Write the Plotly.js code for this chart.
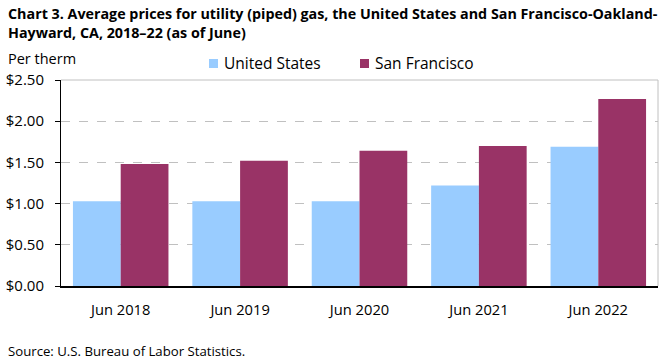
<!DOCTYPE html>
<html><head><meta charset="utf-8">
<script src="https://cdn.plot.ly/plotly-3.0.1.min.js"></script>
<style>body{margin:0;padding:0;background:#fff}#chart{width:661px;height:361px}</style>
</head><body><div id="chart"></div>
<script>
const categories = ["Jun 2018","Jun 2019","Jun 2020","Jun 2021","Jun 2022"];
const usValues = [1.03, 1.03, 1.03, 1.22, 1.69];
const sfValues = [1.48, 1.52, 1.64, 1.70, 2.27];
const seriesNames = ["United States","San Francisco"];
const seriesColors = ["#99ccff","#993366"];
const yTickVals = [0, 0.5, 1.0, 1.5, 2.0, 2.5];
const yTickText = ["$0.00","$0.50","$1.00","$1.50","$2.00","$2.50"];
const FONT = "Open Sans, sans-serif";

// pixel helpers for the plot frame (l=61, r=658, t=80, b=286)
const PL = 61, PR = 658, PT = 80, PB = 286;
const px = v => (v - PL) / (PR - PL);
const py = v => (PB - v) / (PB - PT);

const traces = [
  {type:"bar", name:seriesNames[0], x:categories, y:usValues, marker:{color:seriesColors[0]}, hovertemplate:"%{y:$.2f}"},
  {type:"bar", name:seriesNames[1], x:categories, y:sfValues, marker:{color:seriesColors[1]}, hovertemplate:"%{y:$.2f}"}
];

// legend drawn as swatches + text (positions matching the reference)
const legendPos = [{mx:209, tx:222}, {mx:360, tx:373}];
const legendShapes = legendPos.map((p,i)=>({type:"rect", xref:"paper", yref:"paper",
  x0:px(p.mx), x1:px(p.mx+9), y0:py(68), y1:py(59), line:{width:0}, fillcolor:seriesColors[i]}));
const legendTexts = legendPos.map((p,i)=>({text:seriesNames[i], xref:"paper", yref:"paper",
  x:px(p.tx), y:py(63.5), xanchor:"left", yanchor:"middle", showarrow:false, font:{family:FONT,size:15.5}}));

const layout = {
  width:661, height:361,
  margin:{l:PL, r:661-PR, t:PT, b:361-PB},
  paper_bgcolor:"#fff", plot_bgcolor:"#fff",
  font:{family:FONT, size:14, color:"#000"},
  barmode:"group", bargap:0.2, bargroupgap:0,
  showlegend:false,
  xaxis:{type:"category", showline:true, linecolor:"#000", linewidth:1.5, ticks:"", tickfont:{family:FONT,size:14.7}, ticklabelstandoff:10, showgrid:false, fixedrange:true},
  yaxis:{range:[0,2.5], tickvals:yTickVals, ticktext:yTickText, showline:true, linecolor:"#000", linewidth:1, ticks:"outside", ticklen:5, tickcolor:"#000",
    ticklabelstandoff:8, showgrid:true, gridcolor:"#c0c0c0", griddash:"dash", gridwidth:1, zeroline:false, tickfont:{family:FONT,size:15}, fixedrange:true},
  shapes:[
    {type:"line", xref:"paper", yref:"paper", x0:0, x1:1, y0:1, y1:1, line:{color:"#c0c0c0", width:1}},
    {type:"line", xref:"paper", yref:"paper", x0:1, x1:1, y0:0, y1:1, line:{color:"#c0c0c0", width:1}}
  ].concat(legendShapes),
  annotations:[
    {text:"<b>Chart 3. Average prices for utility (piped) gas, the United States and San Francisco-Oakland-<br>Hayward, CA, 2018–22 (as of June)</b>",
      xref:"paper", yref:"paper", x:px(6), y:py(2), xanchor:"left", yanchor:"top", align:"left", showarrow:false,
      font:{family:FONT,size:14.3}},
    {text:"Per therm", xref:"paper", yref:"paper", x:px(6), y:py(58), xanchor:"left", yanchor:"middle", showarrow:false, font:{family:FONT,size:14.5}},
    {text:"Source: U.S. Bureau of Labor Statistics.", xref:"paper", yref:"paper", x:px(6), y:py(351), xanchor:"left", yanchor:"middle", showarrow:false, font:{family:FONT,size:13.2}}
  ].concat(legendTexts)
};
Plotly.newPlot("chart", traces, layout, {displayModeBar:false});
</script></body></html>
